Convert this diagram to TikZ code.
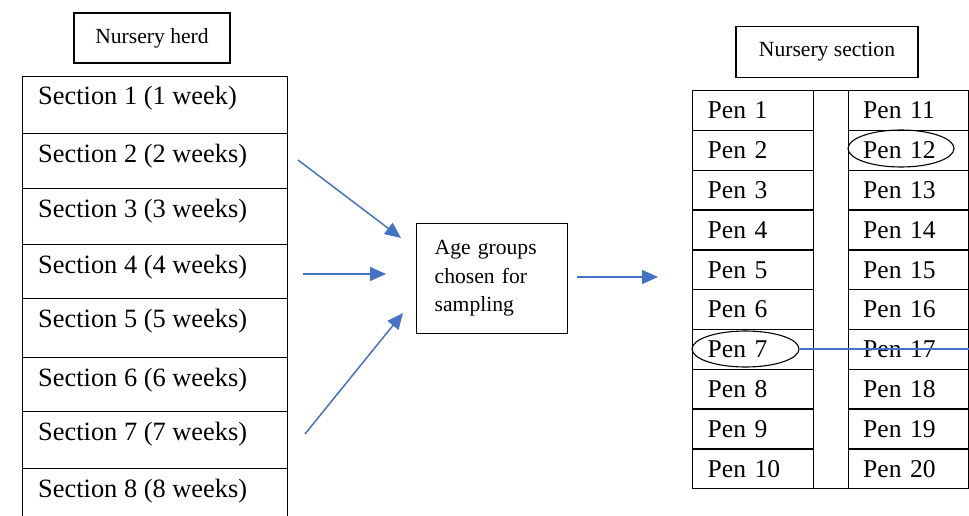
\documentclass[tikz,border=0pt]{standalone}
\usepackage{fontspec}
\setmainfont{Liberation Serif}
\usetikzlibrary{arrows.meta,shapes.geometric,calc}
\definecolor{arrowblue}{HTML}{4472C4}
\tikzset{
  boxline/.style={draw=black, line width=1.4pt},
  secrow/.style={boxline, anchor=north west, minimum width=265pt, inner sep=0pt},
  sectext/.style={anchor=base west, inner sep=0pt, font=\fontsize{26.4}{30}\selectfont},
  pencell/.style={boxline, anchor=north west, minimum width=120.5pt, minimum height=39.8pt,
    inner xsep=15pt, inner ysep=0pt, text width=90.5pt, align=left, font=\fontsize{25.6}{30}\selectfont},
  header/.style={boxline, inner sep=0pt, font=\fontsize{21.6}{26}\selectfont},
  penoval/.style={ellipse, draw=black, line width=1.1pt, inner sep=0pt},
  arr/.style={draw=arrowblue, line width=1.5pt, -{Triangle[length=16pt,width=14pt]}},
  blueline/.style={draw=arrowblue, line width=1.5pt}
}
\begin{document}
\begin{tikzpicture}[x=1pt,y=-1pt]
\useasboundingbox (0,0) rectangle (969,516);
% left column
\node[header, minimum width=156pt, minimum height=50pt] (herd) at (152,38) {Nursery herd};
\foreach \t/\b [count=\k] in {76/133,133/188,188/244,244/298,298/357,357/411,411/468,468/545} {
  \pgfmathsetmacro\h{\b-\t}
  \node[secrow, minimum height=\h pt] (s\k) at (22,\t) {};
}
\node[sectext] (st1) at (38,105) {Section 1 (1 week)};
\node[sectext] (st2) at (38,162) {Section 2 (2 weeks)};
\node[sectext] (st3) at (38,217) {Section 3 (3 weeks)};
\node[sectext] (st4) at (38,273) {Section 4 (4 weeks)};
\node[sectext] (st5) at (38,327) {Section 5 (5 weeks)};
\node[sectext] (st6) at (38,386) {Section 6 (6 weeks)};
\node[sectext] (st7) at (38,440) {Section 7 (7 weeks)};
\node[sectext] (st8) at (38,497) {Section 8 (8 weeks)};
% middle box
\node[boxline, anchor=north west, minimum width=151pt, minimum height=110pt,
  inner xsep=18pt, text width=115pt, align=left, font=\fontsize{21.6}{28.5}\selectfont]
  (age) at (416,223) {Age groups\\chosen for\\sampling};
% arrows
\coordinate (a1s) at (298,160); \coordinate (a1e) at (401,238);
\coordinate (a2s) at (303,274); \coordinate (a2e) at (386,274);
\coordinate (a3s) at (305,434); \coordinate (a3e) at (403,313);
\coordinate (a4s) at (577,277); \coordinate (a4e) at (658,277);
\draw[arr] (a1s) -- (a1e);
\draw[arr] (a2s) -- (a2e);
\draw[arr] (a3s) -- (a3e);
\draw[arr] (a4s) -- (a4e);
% right column
\node[header, minimum width=182pt, minimum height=51pt] (sect) at (827,52) {Nursery section};
\node[boxline, anchor=north west, minimum width=35pt, minimum height=398pt, inner sep=0pt] (gap) at (812.5,90) {};
\foreach \i in {1,...,10} {
  \pgfmathsetmacro\yy{90+39.8*(\i-1)}
  \pgfmathtruncatemacro\j{\i+10}
  \node[pencell] (p\i) at (692,\yy) {Pen \i};
  \node[pencell] (p\j) at (847.5,\yy) {Pen \j};
}
\node[penoval, minimum width=107pt, minimum height=36pt] (e7) at (745.5,349) {};
\node[penoval, minimum width=106pt, minimum height=37pt] (e12) at (901,148.5) {};
\coordinate (lineend) at (969,348);
\draw[blueline] (e7.east) -- (e7.east -| lineend);
\end{tikzpicture}
\end{document}
